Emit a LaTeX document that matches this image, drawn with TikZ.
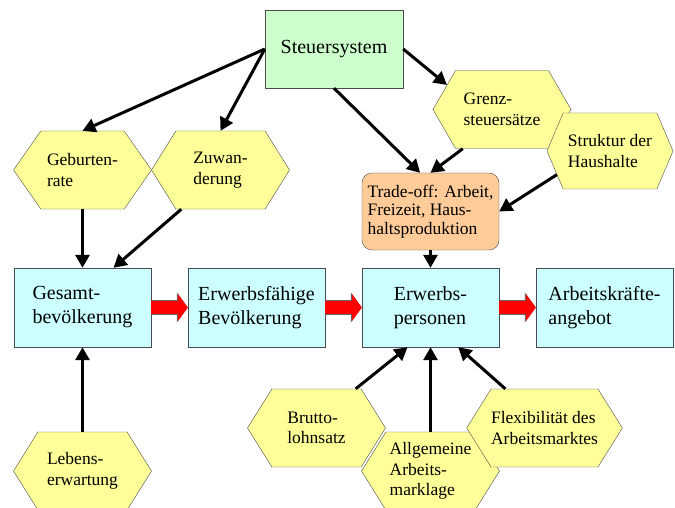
\documentclass[tikz,border=0pt]{standalone}
\usepackage{fontspec}
\setmainfont{Liberation Serif}
\usetikzlibrary{arrows.meta,shapes.symbols,calc}

\definecolor{stgreen}{HTML}{CCFFCC}
\definecolor{hexyellow}{HTML}{FFFF99}
\definecolor{popcyan}{HTML}{CCFFFF}
\definecolor{tradeorange}{HTML}{FFCC99}

\begin{document}
\begin{tikzpicture}[x=1pt, y=-1pt,
  taxbox/.style={draw=black!70, fill=stgreen, rectangle,
    minimum width=138pt, minimum height=78pt, font=\fontsize{20}{24}\selectfont},
  popbox/.style={draw=black!70, fill=popcyan, rectangle,
    minimum width=137pt, minimum height=79pt, align=left,
    font=\fontsize{20}{24}\selectfont},
  factor/.style={draw=black!70, fill=hexyellow, signal, signal to=east and west,
    signal pointer angle=#1, minimum width=138pt, minimum height=78pt,
    inner sep=0pt, align=left, font=\fontsize{17.5}{20.5}\selectfont},
  factor/.default=116,
  tradebox/.style={draw=black!70, fill=tradeorange, rectangle, rounded corners=10pt,
    minimum width=137pt, minimum height=77pt, align=left,
    font=\fontsize{17.5}{18.5}\selectfont},
  ar/.style={-{Triangle[length=13pt,width=14pt]}, line width=3pt},
  flow/.style={-{Triangle[length=10pt,width=27pt]}, line width=13pt, red,
    preaction={draw=black!60, line width=14.5pt, -{Triangle[length=11pt,width=29.5pt]}}},
]
\useasboundingbox (0,0) rectangle (675,508);

%--- Steuersystem ---
\node[taxbox] (steuer) at (334,49) {Steuersystem};

%--- Einflussfaktoren oben ---
\node[factor=110] (geburt)   at (82.5,170)  {Geburten-\\rate};
\node[factor]     (zuwand)   at (220.5,170) {Zuwan-\\derung};
\node[factor=120] (grenz)    at (502,109.5) {Grenz-\\steuersätze};
\node[factor=134, minimum width=126pt, minimum height=76pt]
                  (struktur) at (610,151)   {Struktur der\\Haushalte};
\node[tradebox]   (trade)    at (430.5,211.5)
  {Trade-off: Arbeit,\\Freizeit, Haus-\\haltsproduktion};

%--- Bevoelkerungskette ---
\node[popbox] (gesamt)  at (82.5,307.5)  {Gesamt-\\bevölkerung};
\node[popbox] (faehig)  at (256.5,307.5) {Erwerbsfähige\\Bevölkerung};
\node[popbox] (erwpers) at (430.5,307.5) {Erwerbs-\\personen};
\node[popbox] (angebot) at (604.5,307.5) {Arbeitskräfte-\\angebot};

\draw[flow] (gesamt.east)  -- (faehig.west);
\draw[flow] (faehig.east)  -- (erwpers.west);
\draw[flow] (erwpers.east) -- (angebot.west);

%--- Einflussfaktoren unten ---
\node[factor] (leben)  at (82.5,471)  {Lebens-\\erwartung};
\node[factor] (brutto) at (316.5,428) {Brutto-\\lohnsatz};
\node[factor] (allg)   at (430.5,471) {Allgemeine\\Arbeits-\\marklage};
\node[factor] (flex)   at (544.5,428) {Flexibilität des\\Arbeitsmarktes};

%--- Wirkungspfeile ---
\draw[ar] (steuer.west) -- (geburt.north);
\draw[ar] (steuer.west) -- (zuwand.north);
\draw[ar] (steuer.east) -- (grenz.156);
\draw[ar] (steuer.south) -- (trade.105);
\draw[ar] (grenz.-135) -- (trade.north);
\draw[ar] (struktur.204) -- (trade.east);
\draw[ar] (trade.south) -- (erwpers.north);
\draw[ar] (geburt.south) -- (gesamt.north);
\draw[ar] (zuwand.-135) -- (gesamt.52);
\draw[ar] (leben.north) -- (gesamt.south);
\draw[ar] (brutto.45) -- (erwpers.240);
\draw[ar] (allg.north) -- (erwpers.south);
\draw[ar] (flex.135) -- (erwpers.-55);

\end{tikzpicture}
\end{document}
